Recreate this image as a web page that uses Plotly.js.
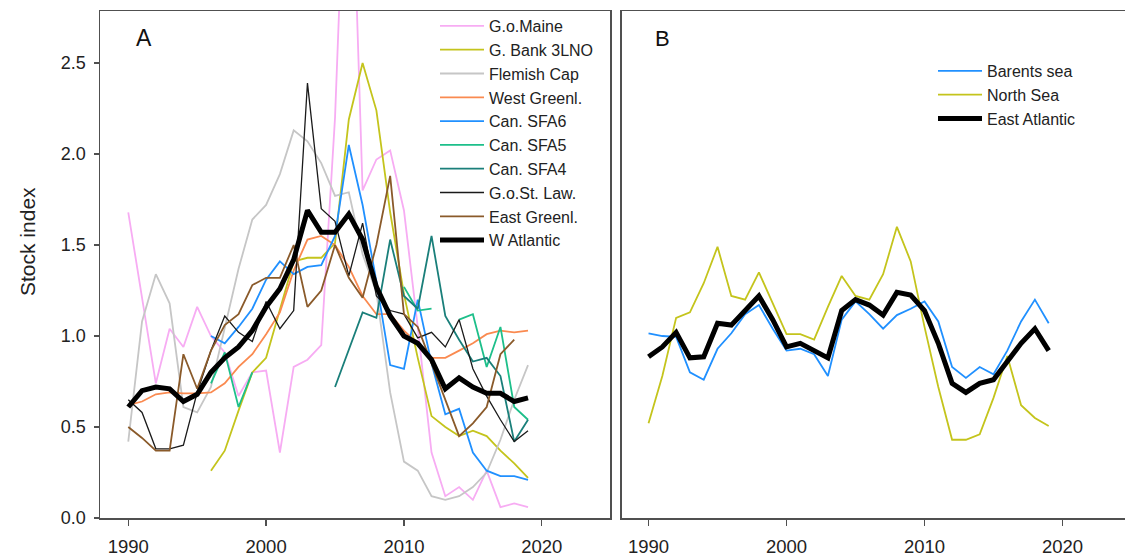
<!DOCTYPE html>
<html>
<head>
<meta charset="utf-8">
<script src="https://cdn.plot.ly/plotly-3.0.1.min.js"></script>
<style>html,body{margin:0;padding:0;background:#fff;}#chart{width:1125px;height:557px;}</style>
</head>
<body>
<div id="chart"></div>
<script>
const years = [1990,1991,1992,1993,1994,1995,1996,1997,1998,1999,2000,2001,2002,2003,2004,2005,2006,2007,2008,2009,2010,2011,2012,2013,2014,2015,2016,2017,2018,2019];
const xTicks = [1990, 2000, 2010, 2020];
const yTicks = [0, 0.5, 1.0, 1.5, 2.0, 2.5];
const yTitle = 'Stock index';
const panelLabels = ['A', 'B'];

// Panel A (West Atlantic)
const goMaine    = [1.68,1.20,0.74,1.04,0.94,1.16,1.00,0.91,0.67,0.80,0.81,0.36,0.83,0.87,0.95,2.20,4.20,1.80,1.97,2.02,1.69,1.05,0.36,0.12,0.17,0.10,0.26,0.06,0.08,0.06];
const gBank3LNO  = [null,null,null,null,null,null,0.26,0.37,0.59,0.80,0.88,1.15,1.41,1.43,1.43,1.51,2.19,2.50,2.24,1.68,1.23,0.88,0.56,0.50,0.45,0.48,0.45,0.37,0.30,0.22];
const flemishCap = [0.42,1.08,1.34,1.18,0.61,0.58,0.72,1.05,1.37,1.64,1.72,1.89,2.13,2.07,1.95,1.77,1.79,1.45,1.24,0.69,0.31,0.26,0.12,0.10,0.12,0.17,0.25,0.43,0.65,0.84];
const westGreenl = [0.62,0.64,0.68,0.69,0.685,0.685,0.69,0.74,0.83,0.90,1.01,1.13,1.36,1.53,1.55,1.50,1.38,1.22,1.12,1.12,1.03,0.96,0.88,0.88,0.92,0.96,1.01,1.03,1.02,1.03];
const canSFA6    = [null,null,null,null,null,null,1.00,0.96,1.05,1.15,1.31,1.41,1.34,1.38,1.39,1.55,2.05,1.72,1.30,0.84,0.82,1.20,0.85,0.57,0.60,0.36,0.26,0.23,0.23,0.21];
const canSFA5    = [null,null,null,null,null,null,0.74,0.91,0.61,0.80,null,null,null,null,null,null,null,null,null,null,1.27,1.14,1.15,null,1.09,1.12,0.83,1.05,0.61,0.54];
const canSFA4    = [null,null,null,null,null,null,null,null,null,null,null,null,null,null,null,0.72,0.93,1.13,1.10,1.53,1.22,1.15,1.55,1.11,0.98,0.86,0.88,0.78,0.42,0.54];
const goStLaw    = [0.65,0.58,0.38,0.38,0.40,0.69,0.92,1.11,1.02,0.97,1.19,1.04,1.14,2.39,1.70,1.63,1.33,1.62,1.22,1.14,1.12,0.99,1.02,0.94,1.09,0.82,0.67,0.54,0.42,0.48];
const eastGreenl = [0.50,0.44,0.37,0.37,0.90,0.71,0.92,1.06,1.12,1.28,1.32,1.32,1.50,1.16,1.25,1.50,1.32,1.21,1.50,1.88,1.12,1.05,0.85,0.65,0.45,0.52,0.61,0.90,0.98,null];
const wAtlantic  = [0.61,0.70,0.72,0.71,0.64,0.68,0.80,0.88,0.94,1.03,1.16,1.26,1.42,1.69,1.57,1.57,1.67,1.53,1.27,1.11,1.00,0.96,0.87,0.71,0.77,0.72,0.685,0.685,0.64,0.66];

// Panel B (East Atlantic)
const barentsSea   = [1.015,1.00,0.995,0.80,0.76,0.93,1.015,1.12,1.17,1.04,0.92,0.93,0.90,0.78,1.09,1.19,1.12,1.04,1.115,1.15,1.19,1.08,0.83,0.77,0.83,0.79,0.92,1.08,1.20,1.07];
const northSea     = [0.52,0.78,1.10,1.13,1.29,1.49,1.22,1.20,1.35,1.18,1.01,1.01,0.98,1.16,1.33,1.22,1.20,1.34,1.60,1.41,1.05,0.72,0.43,0.43,0.46,0.66,0.89,0.62,0.55,0.505];
const eastAtlantic = [0.886,0.94,1.02,0.88,0.886,1.07,1.06,1.14,1.22,1.09,0.94,0.96,0.92,0.88,1.14,1.20,1.17,1.115,1.24,1.225,1.14,0.96,0.74,0.69,0.74,0.76,0.86,0.96,1.04,0.92];

const seriesA = [
  {name:'G.o.Maine',     y:goMaine,    color:'#f7acf3', w:1.8},
  {name:'G. Bank 3LNO',  y:gBank3LNO,  color:'#c4c41c', w:1.8},
  {name:'Flemish Cap',   y:flemishCap, color:'#c6c6c6', w:1.8},
  {name:'West Greenl.',  y:westGreenl, color:'#fa8a50', w:1.8},
  {name:'Can. SFA6',     y:canSFA6,    color:'#2090ff', w:1.8},
  {name:'Can. SFA5',     y:canSFA5,    color:'#1dbf8a', w:1.8},
  {name:'Can. SFA4',     y:canSFA4,    color:'#1a7f7a', w:1.8},
  {name:'G.o.St. Law.',  y:goStLaw,    color:'#1a1a1a', w:1.3},
  {name:'East Greenl.',  y:eastGreenl, color:'#8a5a2a', w:1.8},
  {name:'W Atlantic',    y:wAtlantic,  color:'#000000', w:5}
];
const seriesB = [
  {name:'Barents sea',  y:barentsSea,   color:'#2090ff', w:1.8},
  {name:'North Sea',    y:northSea,     color:'#c4c41c', w:1.8},
  {name:'East Atlantic',y:eastAtlantic, color:'#000000', w:5}
];

const traces = [];
seriesA.forEach(s => traces.push({
  type:'scatter', mode:'lines', x:years, y:s.y, name:s.name,
  line:{color:s.color, width:s.w}, xaxis:'x', yaxis:'y', legend:'legend', connectgaps:false
}));
seriesB.forEach(s => traces.push({
  type:'scatter', mode:'lines', x:years, y:s.y, name:s.name,
  line:{color:s.color, width:s.w}, xaxis:'x2', yaxis:'y2', legend:'legend2', connectgaps:false
}));

const axisCol = '#505050';
const fontFam = 'Liberation Sans, Arial, sans-serif';
const layout = {
  width:1125, height:557,
  margin:{l:100, r:0, t:11, b:39, pad:0},
  paper_bgcolor:'#ffffff', plot_bgcolor:'#ffffff',
  font:{family:fontFam, size:18, color:'#222222'},
  showlegend:true,
  xaxis:{domain:[0,0.4976], range:[1987.95,2024.95], tickvals:xTicks, ticks:'outside', ticklen:6, tickwidth:1.3,
         tickcolor:axisCol, showline:true, linecolor:axisCol, linewidth:1.5, mirror:true, showgrid:false, zeroline:false,
         anchor:'y', tickfont:{size:18.5, color:'#222'}, ticklabelstandoff:5},
  yaxis:{domain:[0,1], range:[0,2.786], tickvals:yTicks, tickformat:'.1f', ticks:'outside', ticklen:5, tickwidth:1.3,
         tickcolor:axisCol, showline:true, linecolor:axisCol, linewidth:1.5, mirror:true, showgrid:false, zeroline:false,
         anchor:'x', tickfont:{size:18, color:'#222'}, ticklabelstandoff:4},
  xaxis2:{domain:[0.5089,1], range:[1988.05,2024.53], tickvals:xTicks, ticks:'outside', ticklen:6, tickwidth:1.3,
         tickcolor:axisCol, showline:true, linecolor:axisCol, linewidth:1.5, mirror:true, showgrid:false, zeroline:false,
         anchor:'y2', tickfont:{size:18.5, color:'#222'}, ticklabelstandoff:5},
  yaxis2:{domain:[0,1], range:[0,2.786], showticklabels:false, ticks:'', showline:true, linecolor:axisCol, linewidth:1.5,
         mirror:false, showgrid:false, zeroline:false, anchor:'x2'},
  legend:{x:(435-100)/1025, y:(518-9)/507, xanchor:'left', yanchor:'top', bgcolor:'rgba(0,0,0,0)',
          font:{size:16, color:'#222', family:fontFam}, itemwidth:44, tracegroupgap:0},
  legend2:{x:(933-100)/1025, y:(518-54)/507, xanchor:'left', yanchor:'top', bgcolor:'rgba(0,0,0,0)',
          font:{size:16, color:'#222', family:fontFam}, itemwidth:44, tracegroupgap:0},
  annotations:[
    {text:panelLabels[0], x:(143.7-100)/1025, y:(518-38)/507, xref:'paper', yref:'paper', xanchor:'center', yanchor:'middle', showarrow:false, font:{size:23, color:'#111'}},
    {text:panelLabels[1], x:(662-100)/1025, y:(518-38)/507, xref:'paper', yref:'paper', xanchor:'center', yanchor:'middle', showarrow:false, font:{size:22, color:'#111'}},
    {text:yTitle, textangle:-90, x:(27-100)/1025, y:(518-242)/507, xref:'paper', yref:'paper', xanchor:'center', yanchor:'middle', showarrow:false, font:{size:21, color:'#222'}}
  ]
};
Plotly.newPlot('chart', traces, layout, {displayModeBar:false, staticPlot:true});
</script>
</body>
</html>
